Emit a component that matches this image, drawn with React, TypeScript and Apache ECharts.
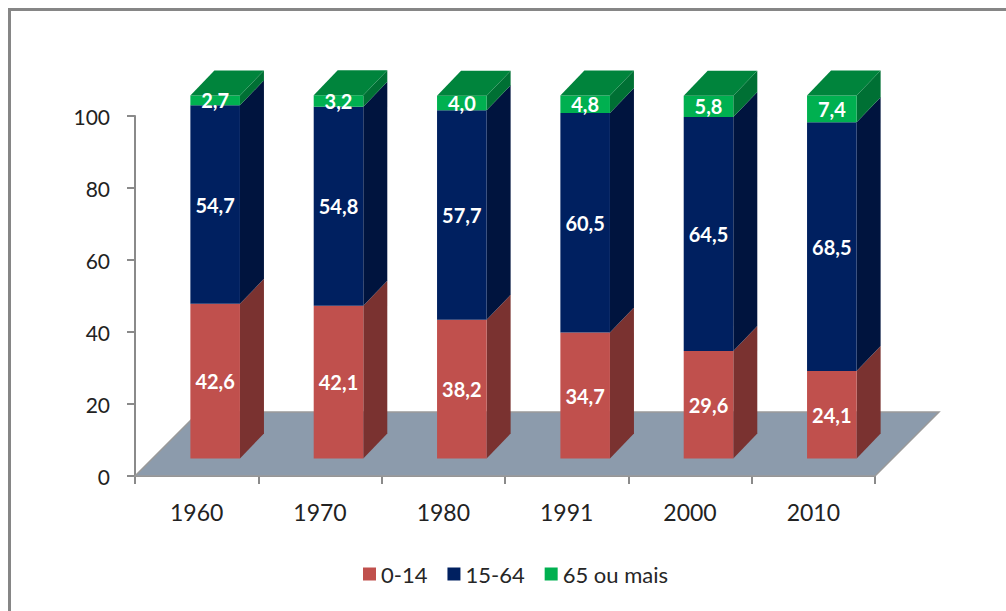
import React, { useEffect, useRef } from "react";
import * as echarts from "echarts";

const years = ["1960", "1970", "1980", "1991", "2000", "2010"];
const ageYoung = [42.6, 42.1, 38.2, 34.7, 29.6, 24.1];
const ageWorking = [54.7, 54.8, 57.7, 60.5, 64.5, 68.5];
const ageOlder = [2.7, 3.2, 4.0, 4.8, 5.8, 7.4];

const FONT = "Lato, Carlito, 'Open Sans', sans-serif";
const AXIS_GREY = "#8a8a8a";
const DEPTH_X = 24;
const DEPTH_Y = 25;
const FLOOR_DEPTH = 64;

type Band = { name: string; values: number[]; front: string; side: string; top?: string };

const bands: Band[] = [
  { name: "0-14", values: ageYoung, front: "#C0504D", side: "#7A3230" },
  { name: "15-64", values: ageWorking, front: "#002060", side: "#00143E" },
  { name: "65 ou mais", values: ageOlder, front: "#00B050", side: "#007034", top: "#00843C" },
];

const decimalComma = (v: number) => v.toFixed(1).replace(".", ",");

// Running totals below each band, so every segment sits on the previous one.
function stackedRows(bandIndex: number) {
  return years.map((_, i) => {
    let start = 0;
    for (let b = 0; b < bandIndex; b++) start += bands[b].values[i];
    return [i, start, start + bands[bandIndex].values[i], bands[bandIndex].values[i]];
  });
}

function barRenderer(band: Band) {
  return (_params: any, api: any) => {
    const cat = api.value(0);
    const [cx, y0] = api.coord([cat, api.value(1)]);
    const [, y1] = api.coord([cat, api.value(2)]);
    const slot = api.size([1, 0])[0];
    const width = slot * 0.402;
    const left = cx + slot * 0.15 - width / 2;
    const right = left + width;
    const children: any[] = [
      {
        type: "polygon",
        shape: {
          points: [
            [right, y1],
            [right + DEPTH_X, y1 - DEPTH_Y],
            [right + DEPTH_X, y0 - DEPTH_Y],
            [right, y0],
          ],
        },
        style: { fill: band.side },
      },
      {
        type: "rect",
        shape: { x: left, y: y1, width, height: y0 - y1 },
        style: { fill: band.front },
      },
    ];
    if (band.top) {
      children.push({
        type: "polygon",
        shape: {
          points: [
            [left, y1],
            [right, y1],
            [right + DEPTH_X, y1 - DEPTH_Y],
            [left + DEPTH_X, y1 - DEPTH_Y],
          ],
        },
        style: { fill: band.top },
      });
    }
    children.push({
      type: "text",
      style: {
        x: (left + right) / 2,
        y: (y0 + y1) / 2,
        text: decimalComma(api.value(3)),
        fill: "#ffffff",
        font: `bold 20px ${FONT}`,
        align: "center",
        verticalAlign: "middle",
      },
    });
    return { type: "group", children };
  };
}

// Grey floor plate running back from the category axis.
function floorRenderer(_params: any, api: any) {
  const slot = api.size([1, 0])[0];
  const [firstX, baseY] = api.coord([0, 0]);
  const [lastX] = api.coord([years.length - 1, 0]);
  const l = firstX - slot / 2;
  const r = lastX + slot / 2;
  return {
    type: "polygon",
    shape: {
      points: [
        [l, baseY],
        [r, baseY],
        [r + FLOOR_DEPTH, baseY - FLOOR_DEPTH],
        [l + FLOOR_DEPTH, baseY - FLOOR_DEPTH],
      ],
    },
    style: { fill: "#8C9BAC", stroke: "#9a9a9a", lineWidth: 1.5 },
  };
}

export default function App() {
  const ref = useRef<HTMLDivElement>(null);

  useEffect(() => {
    if (!ref.current) return;
    const chart = echarts.init(ref.current, undefined, { renderer: "svg" });
    chart.setOption({
      animation: false,
      backgroundColor: "#ffffff",
      grid: { left: 135, top: 116, width: 740, height: 360, containLabel: false },
      graphic: [
        {
          type: "rect",
          silent: true,
          z: -10,
          shape: { x: 9.5, y: 9.5, width: 1100, height: 700 },
          style: { fill: "none", stroke: "#868686", lineWidth: 3 },
        },
      ],
      legend: {
        show: true,
        selectedMode: false,
        left: 358,
        top: 558,
        icon: "rect",
        itemWidth: 13,
        itemHeight: 13,
        itemGap: 20,
        textStyle: { fontFamily: FONT, fontSize: 22, color: "#262626" },
        data: bands.map((b) => b.name),
      },
      xAxis: {
        type: "category",
        data: years,
        axisLine: { lineStyle: { color: AXIS_GREY, width: 2 } },
        axisTick: { show: true, alignWithLabel: false, length: 8, lineStyle: { color: AXIS_GREY, width: 2 } },
        axisLabel: { fontFamily: FONT, fontSize: 23, color: "#222222", margin: 24 },
      },
      yAxis: [
        {
          type: "value",
          min: 0,
          max: 100,
          interval: 20,
          axisLine: { show: true, lineStyle: { color: AXIS_GREY, width: 2 } },
          axisTick: { show: true, length: 8, lineStyle: { color: AXIS_GREY, width: 2 } },
          axisLabel: { fontFamily: FONT, fontSize: 21, color: "#222222", margin: 25 },
          splitLine: { show: false },
        },
        {
          // Scale of the front faces: they stand forward of the axis plane, so 0 and 100 land lower and higher.
          type: "value",
          show: false,
          min: -4.82,
          max: 94.35,
          splitLine: { show: false },
        },
      ],
      series: [
        {
          type: "custom",
          name: "floor",
          silent: true,
          z: 1,
          yAxisIndex: 0,
          renderItem: floorRenderer,
          data: [[0, 0]],
          encode: { x: 0, y: 1 },
        },
        ...bands.map((band, i) => ({
          type: "custom",
          name: band.name,
          z: 3 + i,
          yAxisIndex: 1,
          itemStyle: { color: band.front },
          renderItem: barRenderer(band),
          data: stackedRows(i),
          encode: { x: 0, y: [1, 2] },
        })),
      ],
    });
    return () => chart.dispose();
  }, []);

  return (
    <div
      ref={ref}
      style={{ position: "fixed", left: 0, top: 0, width: 1006, height: 611 }}
    />
  );
}
